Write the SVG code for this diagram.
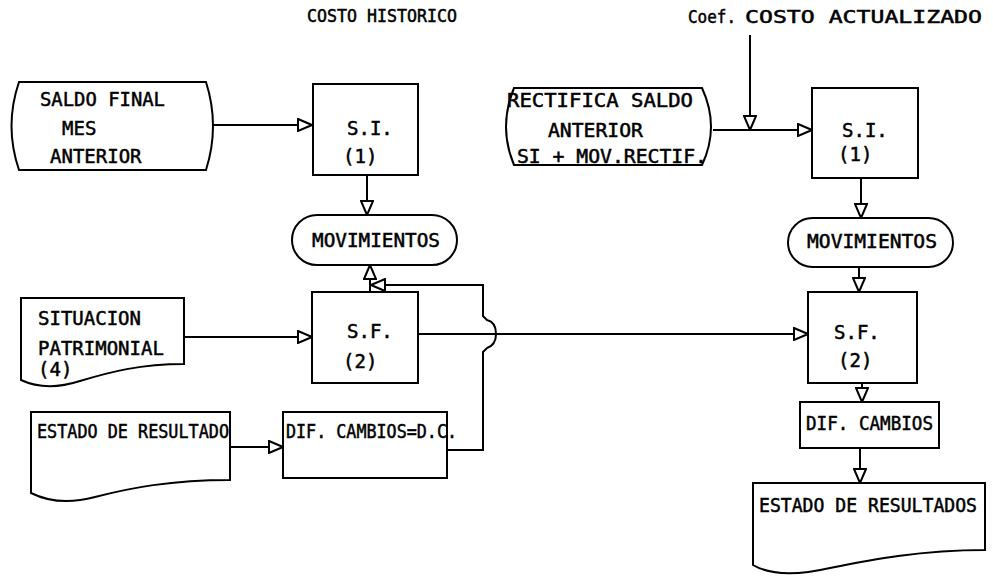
<svg xmlns="http://www.w3.org/2000/svg" width="993" height="577" viewBox="0 0 993 577">
<style>
.shape{fill:#fff;stroke:#000;stroke-width:2}
.conn{fill:none;stroke:#000;stroke-width:2}
text{font-family:"DejaVu Sans Mono","Liberation Mono",monospace;font-size:19px;fill:#000;stroke:#000;stroke-width:0.5}
.hdr{font-size:17px}
</style>
<defs>
<marker id="ah" viewBox="0 0 16 14" refX="15" refY="7" markerWidth="16" markerHeight="14" markerUnits="userSpaceOnUse" orient="auto">
<path d="M1,1 L15,7 L1,13 Z" fill="#fff" stroke="#000" stroke-width="2"/>
</marker>
</defs>
<rect width="993" height="577" fill="#fff"/>

<g id="titles">
<text class="hdr" x="307" y="22" textLength="150" lengthAdjust="spacingAndGlyphs">COSTO HISTORICO</text>
<text class="hdr" x="688" y="23" textLength="48" lengthAdjust="spacingAndGlyphs">Coef.</text>
<text class="hdr" x="745" y="23" textLength="237" lengthAdjust="spacingAndGlyphs">COSTO ACTUALIZADO</text>
</g>

<g id="connectors">
<path class="conn" d="M213,125 H312" marker-end="url(#ah)"/>
<path class="conn" d="M367,175 V215" marker-end="url(#ah)"/>
<path class="conn" d="M370,292 V265" marker-end="url(#ah)"/>
<path class="conn" d="M447,450 H483 V352 L487,348 Q496,345 496,334 Q496,322 487,320 L483,316 V285 H371" marker-end="url(#ah)"/>
<path class="conn" d="M184,337 H312" marker-end="url(#ah)"/>
<path class="conn" d="M230,447 H283" marker-end="url(#ah)"/>
<path class="conn" d="M418,334 H808" marker-end="url(#ah)"/>
<path class="conn" d="M713,130 H812" marker-end="url(#ah)"/>
<path class="conn" d="M750,35 V130" marker-end="url(#ah)"/>
<path class="conn" d="M861,178 V218" marker-end="url(#ah)"/>
<path class="conn" d="M859,267 V292" marker-end="url(#ah)"/>
<path class="conn" d="M862,383 V402" marker-end="url(#ah)"/>
<path class="conn" d="M860,448 V483" marker-end="url(#ah)"/>
</g>

<g id="saldo-final">
<path class="shape" d="M19,82 H206 Q220,126 206,170 H19 Q4,126 19,82 Z"/>
<text x="40" y="106" textLength="125" lengthAdjust="spacingAndGlyphs">SALDO FINAL</text>
<text x="62" y="135">MES</text>
<text x="50" y="163">ANTERIOR</text>
</g>

<g id="si-left">
<rect class="shape" x="313" y="84" width="105" height="91"/>
<text x="347" y="135">S.I.</text>
<text x="343" y="163">(1)</text>
</g>

<g id="mov-left">
<rect class="shape" x="292" y="215" width="165" height="50" rx="25"/>
<text x="312" y="247" textLength="128" lengthAdjust="spacingAndGlyphs">MOVIMIENTOS</text>
</g>

<g id="situacion">
<path class="shape" d="M21,298 H184 V364 C140,364 110,372 80,381 C55,389 36,387 21,380 Z"/>
<text x="38" y="325">SITUACION</text>
<text x="38" y="355">PATRIMONIAL</text>
<text x="38" y="376">(4)</text>
</g>

<g id="sf-left">
<rect class="shape" x="312" y="292" width="106" height="91"/>
<text x="347" y="338">S.F.</text>
<text x="343" y="368">(2)</text>
</g>

<g id="estado-left">
<path class="shape" d="M31,412 H230 V480 C170,480 130,488 95,497 C65,505 45,500 31,493 Z"/>
<text x="37" y="438" textLength="192" lengthAdjust="spacingAndGlyphs">ESTADO DE RESULTADO</text>
</g>

<g id="dif-left">
<rect class="shape" x="283" y="412" width="164" height="66"/>
<text x="286" y="438" textLength="171" lengthAdjust="spacingAndGlyphs">DIF. CAMBIOS=D.C.</text>
</g>

<g id="rectifica">
<path class="shape" d="M514,88 H702 Q720,127 702,165 H514 Q498,127 514,88 Z"/>
<text x="507" y="107" textLength="186" lengthAdjust="spacingAndGlyphs">RECTIFICA SALDO</text>
<text x="548" y="137" textLength="95" lengthAdjust="spacingAndGlyphs">ANTERIOR</text>
<text x="517" y="163" textLength="190" lengthAdjust="spacingAndGlyphs">SI + MOV.RECTIF.</text>
</g>

<g id="si-right">
<rect class="shape" x="812" y="88" width="106" height="90"/>
<text x="842" y="137">S.I.</text>
<text x="838" y="161">(1)</text>
</g>

<g id="mov-right">
<rect class="shape" x="788" y="218" width="165" height="49" rx="24.5"/>
<text x="807" y="248" textLength="130" lengthAdjust="spacingAndGlyphs">MOVIMIENTOS</text>
</g>

<g id="sf-right">
<rect class="shape" x="808" y="292" width="109" height="91"/>
<text x="834" y="339">S.F.</text>
<text x="838" y="367">(2)</text>
</g>

<g id="dif-right">
<rect class="shape" x="800" y="402" width="139" height="46"/>
<text x="806" y="430" textLength="127" lengthAdjust="spacingAndGlyphs">DIF. CAMBIOS</text>
</g>

<g id="estado-right">
<path class="shape" d="M753,483 H985 V550 C920,550 870,560 830,568 C795,576 770,575 753,565 Z"/>
<text x="759" y="512" textLength="218" lengthAdjust="spacingAndGlyphs">ESTADO DE RESULTADOS</text>
</g>
</svg>
